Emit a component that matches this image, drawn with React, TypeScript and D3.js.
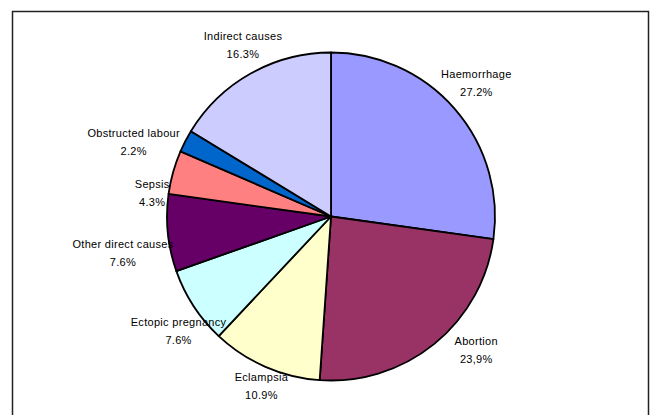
import React from "react";
import * as d3 from "d3";

const categories = [
  "Haemorrhage",
  "Abortion",
  "Eclampsia",
  "Ectopic pregnancy",
  "Other direct causes",
  "Sepsis",
  "Obstructed labour",
  "Indirect causes",
];
const values = [27.2, 23.9, 10.9, 7.6, 7.6, 4.3, 2.2, 16.3];
const pctLabels = ["27.2%", "23,9%", "10.9%", "7.6%", "7.6%", "4.3%", "2.2%", "16.3%"];
const colors = ["#9999FF", "#993366", "#FFFFCC", "#CCFFFF", "#660066", "#FF8080", "#0066CC", "#CCCCFF"];

// label layout nudges (px) relative to the mid-angle anchor
const labelNudge: [number, number][] = [
  [-1, -7], [23, -18], [8, -9], [10, 7], [-15, 16], [8, 28], [-25, 14], [7, -3],
];

const W = 651;
const H = 415;
const CX = 331;
const CY = 216.5;
const R = 164;
const LABEL_R = 194;

export default function App() {
  const pie = d3.pie<number>().sort(null).value((d) => d).startAngle(0).endAngle(2 * Math.PI);
  const arcs = pie(values);
  const arc = d3.arc<d3.PieArcDatum<number>>().innerRadius(0).outerRadius(R);
  const labelArc = d3.arc<d3.PieArcDatum<number>>().innerRadius(LABEL_R).outerRadius(LABEL_R);

  return (
    <svg
      width={W}
      height={H}
      style={{ position: "absolute", left: 0, top: 0, background: "#fff" }}
      fontFamily="'Liberation Sans', Arial, sans-serif"
    >
      <rect x={0} y={0} width={W} height={H} fill="#fff" />
      <rect x={12.5} y={11.5} width={636} height={430} fill="#fff" stroke="#222" strokeWidth={1.5} />
      <g transform={`translate(${CX},${CY})`}>
        {arcs.map((a, i) => (
          <path key={i} d={arc(a) || ""} fill={colors[i]} stroke="#000" strokeWidth={1.8} strokeLinejoin="round" />
        ))}
        {arcs.map((a, i) => {
          const [bx, by] = labelArc.centroid(a);
          const x = bx + labelNudge[i][0];
          const y = by + labelNudge[i][1];
          return (
            <g key={"l" + i} fontSize={11} fill="#000" textAnchor="middle" letterSpacing={0.3}>
              <text x={x} y={y - 4}>{categories[i]}</text>
              <text x={x} y={y + 14}>{pctLabels[i]}</text>
            </g>
          );
        })}
      </g>
    </svg>
  );
}
